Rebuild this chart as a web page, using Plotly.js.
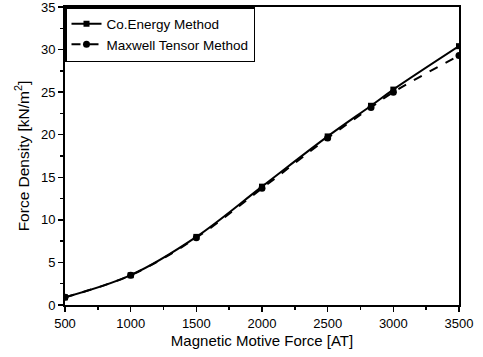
<!DOCTYPE html>
<html><head><meta charset="utf-8">
<script src="https://cdn.plot.ly/plotly-3.0.1.min.js"></script>
<style>html,body{margin:0;padding:0;background:#fff}#chart{width:483px;height:357px}</style>
</head><body><div id="chart"></div>
<script>
const mmf = [500, 1000, 1500, 2000, 2500, 2830, 3000, 3500];
const coEnergy = [0.9, 3.5, 8.0, 13.9, 19.8, 23.4, 25.3, 30.4];
const maxwell = [0.9, 3.5, 7.9, 13.7, 19.6, 23.2, 25.0, 29.3];
const seriesNames = ["Co.Energy Method", "Maxwell Tensor Method"];
const xTicks = [500, 1000, 1500, 2000, 2500, 3000, 3500];
const yTicks = [0, 5, 10, 15, 20, 25, 30, 35];

const fam = "Liberation Sans, Arial, sans-serif";
const traces = [
  {x: mmf, y: coEnergy, name: seriesNames[0], mode: "lines+markers",
   line: {color: "#000", width: 2, shape: "spline"},
   marker: {symbol: "square", size: 6, color: "#000"}},
  {x: mmf, y: maxwell, name: seriesNames[1], mode: "lines+markers",
   line: {color: "#000", width: 2, dash: "dash", shape: "spline"},
   marker: {symbol: "circle", size: 7, color: "#000"}}
];
const layout = {
  width: 483, height: 357,
  margin: {l: 65, r: 24, t: 7, b: 52},
  paper_bgcolor: "#fff", plot_bgcolor: "#fff",
  font: {family: fam, size: 13, color: "#000"},
  showlegend: true,
  legend: {x: 0, y: 1, xanchor: "left", yanchor: "top", bgcolor: "#fff",
           bordercolor: "#000", borderwidth: 1.5, font: {family: fam, size: 13.5, color: "#000"},
           tracegroupgap: 0, itemwidth: 30},
  xaxis: {range: [500, 3500], tickvals: xTicks, ticktext: xTicks.map(String),
          ticks: "outside", ticklen: 5, tickwidth: 1.5, tickcolor: "#000",
          minor: {dtick: 250, ticks: "outside", ticklen: 3, tickcolor: "#000"},
          showline: true, linecolor: "#000", linewidth: 2, mirror: true,
          showgrid: false, zeroline: false, ticklabeloverflow: "allow",
          tickfont: {family: fam, size: 13},
          title: {text: "Magnetic Motive Force [AT]", font: {family: fam, size: 15}, standoff: 6}},
  yaxis: {range: [0, 35], tickvals: yTicks, ticktext: yTicks.map(String),
          ticks: "outside", ticklen: 5, tickwidth: 1.5, tickcolor: "#000",
          minor: {dtick: 2.5, ticks: "outside", ticklen: 3, tickcolor: "#000"},
          showline: true, linecolor: "#000", linewidth: 2, mirror: true,
          showgrid: false, zeroline: false, ticklabeloverflow: "allow",
          tickfont: {family: fam, size: 13},
          title: {text: "Force Density [kN/m<sup>2</sup>]", font: {family: fam, size: 15.5}, standoff: 8}}
};
Plotly.newPlot("chart", traces, layout, {displayModeBar: false, staticPlot: true});
</script></body></html>
